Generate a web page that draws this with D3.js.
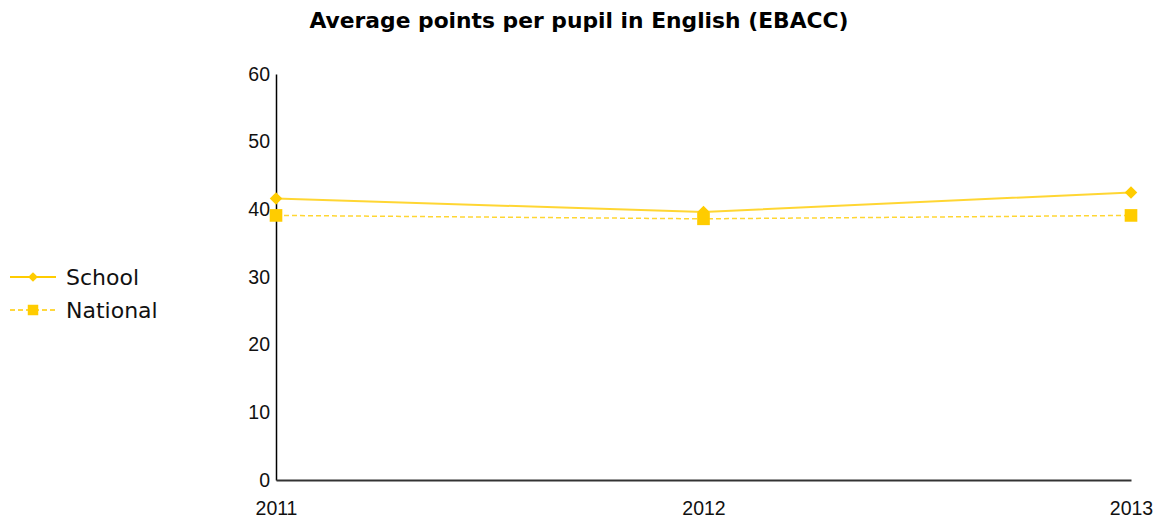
<!DOCTYPE html>
<html><head><meta charset="utf-8">
<script src="https://cdn.jsdelivr.net/npm/d3@7"></script>
<style>body{margin:0;background:#fff;} svg{display:block;}</style>
</head><body>
<svg id="c" width="1156" height="524"></svg>
<script>
const years = ["2011", "2012", "2013"];
const schoolValues = [41.6, 39.6, 42.5];
const nationalValues = [39.1, 38.6, 39.1];
const yTicks = [0, 10, 20, 30, 40, 50, 60];
const title = "Average points per pupil in English (EBACC)";
const seriesNames = ["School", "National"];

const svg = d3.select("#c");
const color = "#FFCC00";
const x = d3.scalePoint().domain(years).range([276, 1131]);
const y = d3.scaleLinear().domain([0, 60]).range([480, 74]);

svg.append("text").attr("x", 579).attr("y", 28).attr("text-anchor", "middle")
  .attr("font-family", "DejaVu Sans").attr("font-weight", "bold").attr("font-size", 21.8)
  .attr("fill", "#000").text(title);

// y axis
const yAxis = d3.axisLeft(y).tickValues(yTicks).tickSize(0).tickPadding(6);
const gy = svg.append("g").attr("transform", "translate(276,0)").call(yAxis);
gy.select(".domain").attr("stroke", "#000").attr("stroke-width", 1.5);
gy.selectAll("text").attr("font-family", "Liberation Sans").attr("font-size", 19.5).attr("fill", "#111");

// x axis
const xAxis = d3.axisBottom(x).tickSize(0).tickPadding(21);
const gx = svg.append("g").attr("transform", "translate(0,480)").call(xAxis);
gx.select(".domain").attr("stroke", "#333").attr("stroke-width", 2);
gx.selectAll("text").attr("font-family", "Liberation Sans").attr("font-size", 19.5).attr("fill", "#111");

const line = d3.line().x((d, i) => x(years[i])).y(d => y(d));

svg.append("path").datum(schoolValues).attr("d", line).attr("fill", "none")
  .attr("stroke", color).attr("stroke-opacity", 0.8).attr("stroke-width", 2);
svg.append("path").datum(nationalValues).attr("d", line).attr("fill", "none")
  .attr("stroke", color).attr("stroke-opacity", 0.8).attr("stroke-width", 1.5).attr("stroke-dasharray", "5,3");

const diamond = d3.symbol().type(d3.symbolDiamond2).size(100);
const square = d3.symbol().type(d3.symbolSquare).size(160);
svg.selectAll(".sm").data(schoolValues).join("path")
  .attr("transform", (d, i) => `translate(${x(years[i])},${y(d)})`)
  .attr("d", diamond).attr("fill", color);
svg.selectAll(".nm").data(nationalValues).join("path")
  .attr("transform", (d, i) => `translate(${x(years[i])},${y(d)})`)
  .attr("d", square).attr("fill", color);

// legend
const lg = svg.append("g");
const legendDiamond = d3.symbol().type(d3.symbolDiamond2).size(60);
const legendSquare = d3.symbol().type(d3.symbolSquare).size(110);
const rows = [{name: seriesNames[0], dash: null, sym: legendDiamond, w: 2}, {name: seriesNames[1], dash: "5,3", sym: legendSquare, w: 1.5}];
rows.forEach((r, i) => {
  const yy = 277 + i * 33;
  lg.append("line").attr("x1", 10).attr("x2", 56).attr("y1", yy).attr("y2", yy)
    .attr("stroke", color).attr("stroke-width", r.w).attr("stroke-dasharray", r.dash);
  lg.append("path").attr("transform", `translate(33,${yy})`).attr("d", r.sym).attr("fill", color);
  lg.append("text").attr("x", 66).attr("y", yy + 8).attr("font-family", "DejaVu Sans")
    .attr("font-size", 22).attr("fill", "#111").text(r.name);
});
</script>
</body></html>
